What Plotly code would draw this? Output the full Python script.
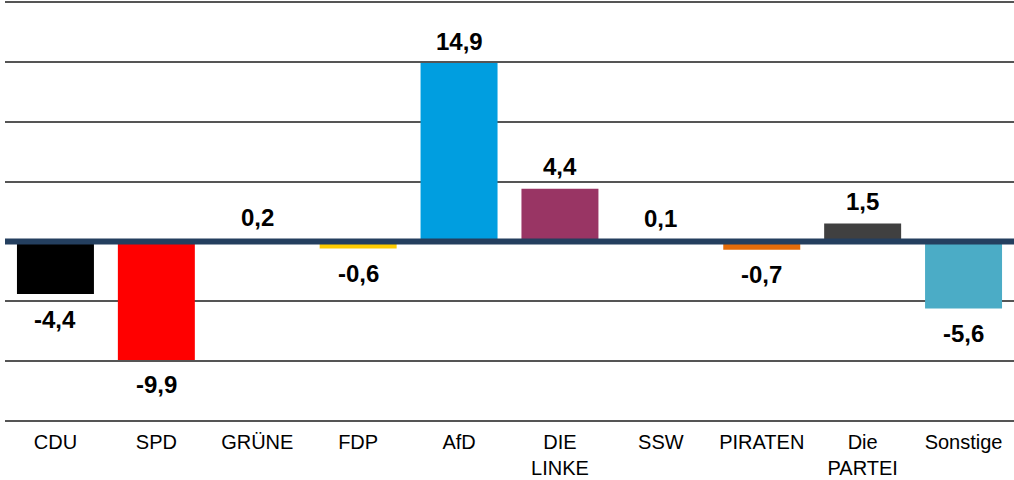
import plotly.graph_objects as go

parties = ["CDU", "SPD", "GRÜNE", "FDP", "AfD", "DIE<br>LINKE", "SSW", "PIRATEN", "Die<br>PARTEI", "Sonstige"]
changes = [-4.4, -9.9, 0.2, -0.6, 14.9, 4.4, 0.1, -0.7, 1.5, -5.6]
colors = ["#000000", "#FF0000", "#46962B", "#FFCC00", "#009EE0",
          "#993564", "#003C8F", "#E46C0A", "#404040", "#4BACC6"]

FONT = "Arial, Liberation Sans, sans-serif"

fig = go.Figure()
fig.add_trace(go.Bar(x=parties, y=changes, marker=dict(color=colors, line=dict(width=0)),
                     hoverinfo="x+y"))

# value labels above / below the bars
for p, v in zip(parties, changes):
    fig.add_annotation(x=p, y=v, text=f"{v:.1f}".replace(".", ","),
                       showarrow=False, yanchor="middle",
                       yshift=22 if v >= 0 else -25,
                       font=dict(family=FONT, size=24, color="black", weight="bold"))

# thick zero line on top of the bars
fig.add_shape(type="line", xref="paper", x0=0, x1=1, yref="y", y0=0, y1=0,
              line=dict(color="#243F5F", width=6), layer="above")

fig.update_layout(
    width=1014, height=480,
    margin=dict(l=5, r=0, t=0, b=55),
    plot_bgcolor="white", paper_bgcolor="white",
    bargap=0.237,
    showlegend=False,
    font=dict(family=FONT, size=20, color="black"),
)
fig.update_xaxes(showline=False, ticks="", automargin=False, ticklabelstandoff=3,
                 tickfont=dict(size=20, family=FONT, color="black"))
# range padded a little so the outer grid lines (20 and -15) are drawn
fig.update_yaxes(range=[-15.334, 20.167], dtick=5, showticklabels=False, zeroline=False,
                 automargin=False, showgrid=True, gridcolor="#555555", gridwidth=1.5)

fig.write_html("out.html", config={"displayModeBar": False},
               post_script="document.body.style.margin='0';")
